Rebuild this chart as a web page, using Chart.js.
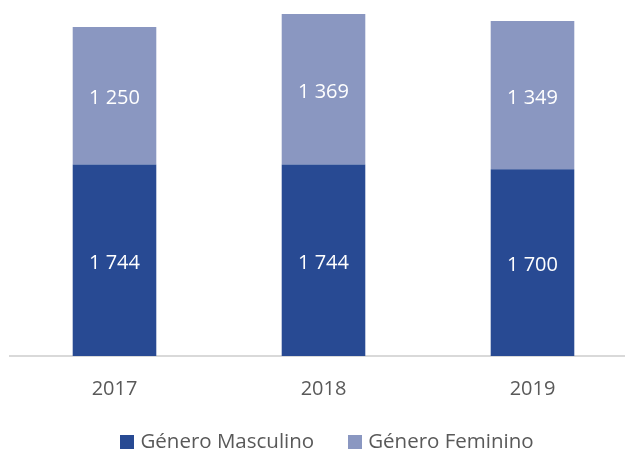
<!DOCTYPE html>
<html>
<head>
<meta charset="utf-8">
<script src="https://cdn.jsdelivr.net/npm/chart.js@4.4.0/dist/chart.umd.min.js"></script>
<style>
    html, body { margin: 0; padding: 0; background: #fff; overflow: hidden; width: 625px; height: 452px; }
    #wrap { position: relative; width: 625px; height: 452px; overflow: hidden; }
    canvas { position: absolute; left: 0; top: 0; }
    #legend { position: absolute; left: 0; width: 654px; top: 427px; height: 26px;
        display: flex; justify-content: center; align-items: center;
        font-family: "Open Sans", sans-serif; font-size: 20.5px; color: #595959; }
    .item { display: flex; align-items: center; margin: 0 17px; white-space: nowrap; }
    .box { width: 14px; height: 14px; margin-right: 6px; margin-top: 3px; }
</style>
</head>
<body>
<div id="wrap">
    <canvas id="chart" width="637" height="452"></canvas>
    <div id="legend"></div>
</div>
<script>
    // ------------------------------------------------------------------------
    // Data
    // ------------------------------------------------------------------------
    const years = ['2017', '2018', '2019'];
    const masculino = [1744, 1744, 1700];
    const feminino = [1250, 1369, 1349];
    const seriesNames = ['Género Masculino', 'Género Feminino'];
    const seriesColors = ['#284a93', '#8a97c1'];

    const fmt = v => String(v).replace(/\B(?=(\d{3})+(?!\d))/g, ' ');

    // White value labels centred in each segment
    const segmentLabels = {
        id: 'segmentLabels',
        afterDatasetsDraw(chart) {
            const ctx = chart.ctx;
            ctx.save();
            ctx.fillStyle = '#ffffff';
            ctx.font = '20px "Open Sans", sans-serif';
            ctx.textAlign = 'center';
            ctx.textBaseline = 'middle';
            chart.data.datasets.forEach((ds, i) => {
                chart.getDatasetMeta(i).data.forEach((bar, j) => {
                    const p = bar.getCenterPoint();
                    ctx.fillText(fmt(ds.data[j]), p.x, p.y + 3);
                });
            });
            ctx.restore();
        }
    };

    const chart = new Chart(document.getElementById('chart'), {
        type: 'bar',
        data: {
            labels: years,
            datasets: [
                { label: seriesNames[0], data: masculino, backgroundColor: seriesColors[0] },
                { label: seriesNames[1], data: feminino, backgroundColor: seriesColors[1] }
            ]
        },
        options: {
            responsive: false,
            animation: false,
            layout: { padding: { left: 10, right: 0, top: 0, bottom: 30 } },
            datasets: {
                bar: { categoryPercentage: 1, barPercentage: 0.4 }
            },
            scales: {
                x: {
                    stacked: true,
                    grid: { display: false, drawTicks: false },
                    border: { display: true, color: '#d9d9d9', width: 2 },
                    ticks: {
                        color: '#595959',
                        padding: 21,
                        font: { family: '"Open Sans", sans-serif', size: 20 }
                    }
                },
                y: {
                    stacked: true,
                    display: false,
                    min: 0,
                    max: 3240
                }
            },
            plugins: {
                legend: { display: false },
                tooltip: { enabled: false }
            }
        },
        plugins: [segmentLabels]
    });

    // HTML legend from the datasets
    const legend = document.getElementById('legend');
    chart.data.datasets.forEach(ds => {
        const item = document.createElement('div');
        item.className = 'item';
        const box = document.createElement('span');
        box.className = 'box';
        box.style.background = ds.backgroundColor;
        item.appendChild(box);
        item.appendChild(document.createTextNode(ds.label));
        legend.appendChild(item);
    });
</script>
</body>
</html>
